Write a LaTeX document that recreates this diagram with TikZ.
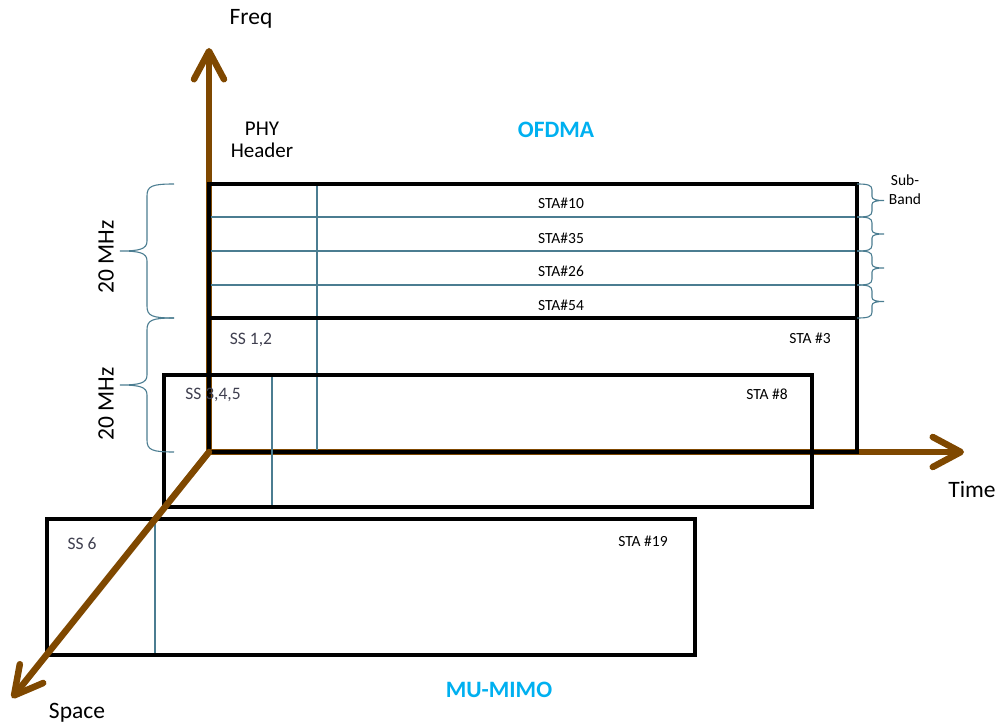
\documentclass[tikz,border=0pt]{standalone}
\usepackage{fontspec}
\setmainfont{Carlito}
\usetikzlibrary{arrows.meta}
\definecolor{axisbrown}{RGB}{127,72,0}
\definecolor{bandline}{RGB}{75,125,145}
\definecolor{titleblue}{RGB}{0,176,240}
\definecolor{ssgray}{RGB}{64,64,80}

% curly brace opening to the right, tip pointing left (y1 above y2)
\newcommand{\leftcurly}[2]{%
  \pgfmathsetmacro\ymid{(#1+#2)/2}%
  \draw[bracepath] (174,#1) .. controls (152,#1) and (147,#1+2) .. (147,#1+12)
    -- (147,\ymid-10) .. controls (147,\ymid-2) and (140,\ymid) .. (120,\ymid)
    .. controls (140,\ymid) and (147,\ymid+2) .. (147,\ymid+10)
    -- (147,#2-12) .. controls (147,#2-2) and (152,#2) .. (174,#2);}
% small curly brace opening to the left, tip pointing right
\newcommand{\rightcurly}[2]{%
  \pgfmathsetmacro\ymid{(#1+#2)/2}%
  \draw[bracepath] (857,#1) .. controls (868,#1) and (872,#1+1) .. (872,#1+6)
    -- (872,\ymid-4) .. controls (872,\ymid-1) and (876,\ymid) .. (884,\ymid)
    .. controls (876,\ymid) and (872,\ymid+1) .. (872,\ymid+4)
    -- (872,#2-6) .. controls (872,#2-1) and (868,#2) .. (857,#2);}

\begin{document}
\begin{tikzpicture}[x=1pt,y=-1pt,
  axis/.style={line width=6.5pt, draw=axisbrown, line cap=round,
    -{Straight Barb[length=28pt,width=30pt,line cap=round,line join=round]}},
  frame/.style={draw=black, line width=3.2pt},
  divider/.style={draw=bandline, line width=1.8pt},
  marker/.style={draw=bandline, line width=1.1pt},
  bracepath/.style={draw=bandline, line width=1.1pt},
  axislabel/.style={font=\fontsize{23.5}{28}\selectfont, inner sep=0pt},
  stalabel/.style={font=\fontsize{15.5}{19}\selectfont, inner sep=0pt},
  sslabel/.style={font=\fontsize{17.5}{21}\selectfont, text=ssgray, inner sep=0pt},
  title/.style={font=\bfseries\fontsize{23.5}{28}\selectfont, text=titleblue, inner sep=0pt},
]
\useasboundingbox (0,0) rectangle (1000,727);

% axes
\coordinate (O) at (209,452);
\coordinate (freqtip) at (209,48);
\coordinate (timetip) at (964,452);
\coordinate (spacetip) at (12,698);
\draw[axis] (O) -- (freqtip);
\draw[axis] (O) -- (timetip);

% OFDMA block: four sub-bands above the STA #3 block
\draw[divider] (209,217) -- (857,217);
\draw[divider] (209,251) -- (857,251);
\draw[divider] (209,285) -- (857,285);
\draw[marker] (317,184) -- (317,452);
\draw[frame] (209,184) rectangle (857,452);
\draw[frame] (209,318) -- (857,318);

% MU-MIMO blocks
\draw[marker] (272,375) -- (272,507);
\draw[frame] (164,375) rectangle (812,507);
\draw[marker] (155,519) -- (155,655);
\draw[frame] (47,519) rectangle (695,655);

% space axis on top
\draw[axis] (O) -- (spacetip);

% braces
\leftcurly{184}{318}
\leftcurly{318}{452}
\rightcurly{184}{217}
\rightcurly{217}{251}
\rightcurly{251}{285}
\rightcurly{285}{318}

% labels
\node[axislabel] (freqlbl) at (251,19) {Freq};
\node[axislabel] (timelbl) at (972,489) {Time};
\node[axislabel] (spacelbl) at (77,713) {Space};
\node[align=center, font=\fontsize{21}{22}\selectfont, inner sep=0pt] (phy) at (262,140) {PHY\\Header};
\node[title] (ofdma) at (556,130) {OFDMA};
\node[title] (mumimo) at (499,690) {MU-MIMO};
\node[axislabel, rotate=90] (mhzA) at (106,257) {20 MHz};
\node[axislabel, rotate=90] (mhzB) at (106,404) {20 MHz};
\node[align=center, font=\fontsize{15.5}{19}\selectfont, inner sep=0pt] (subband) at (905,190) {Sub-\\Band};

\node[stalabel] (sta10) at (561,203) {STA\#10};
\node[stalabel] (sta35) at (561,238) {STA\#35};
\node[stalabel] (sta26) at (561,271) {STA\#26};
\node[stalabel] (sta54) at (561,305) {STA\#54};
\node[stalabel] (sta3) at (810,338) {STA \#3};
\node[stalabel] (sta8) at (767,394) {STA \#8};
\node[stalabel] (sta19) at (643,541) {STA \#19};

\node[sslabel] (ss12) at (251,340) {SS 1,2};
\node[sslabel] (ss345) at (213,395) {SS 3,4,5};
\node[sslabel] (ss6) at (82,544) {SS 6};
\end{tikzpicture}
\end{document}
